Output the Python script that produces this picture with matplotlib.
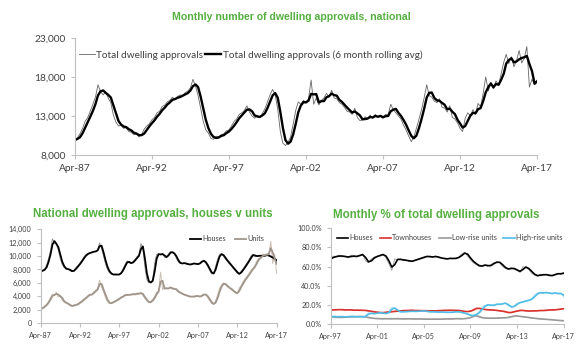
import matplotlib
matplotlib.use('Agg')
import matplotlib.pyplot as plt
import matplotlib.dates as mdates
from matplotlib.ticker import FuncFormatter
import numpy as np
import pandas as pd

plt.rcParams['font.family'] = ['Lato', 'DejaVu Sans']

# ---- data: total dwelling approvals, every 2 months Apr-87 .. Apr-17
total = [
    9900, 10200, 10700, 11400, 12300, 12800,
    13600, 14500, 15400, 17000, 16100, 15700,
    16100, 15300, 14700, 13100, 12200, 11700,
    11800, 11400, 11500, 11000, 10900, 10600,
    10700, 10300, 10600, 11300, 11700, 12000,
    12500, 12800, 13400, 13600, 14200, 14400,
    14800, 15000, 15400, 15100, 15500, 15700,
    15600, 16000, 16200, 16600, 17700, 16800,
    15600, 14000, 12300, 11200, 10800, 10100,
    10000, 10400, 10300, 10600, 10700, 11100,
    11200, 11700, 12300, 12600, 13200, 13400,
    13700, 14300, 13500, 13000, 12700, 13100,
    12800, 13300, 13900, 14800, 15700, 16400,
    15700, 13900, 11000, 9500, 9200, 9600,
    10300, 11900, 13700, 14800, 14500, 15000,
    14700, 15200, 17600, 14500, 15300, 14400,
    15000, 15300, 15900, 15400, 16300, 15300,
    15200, 14700, 14500, 14100, 13600, 13500,
    13200, 14000, 12800, 12400, 12500, 12900,
    12600, 13100, 12700, 13200, 12800, 13000,
    12700, 13200, 13100, 14500, 13800, 13400,
    13000, 12600, 11800, 11200, 10400, 9700,
    10300, 11400, 12600, 13800, 15300, 17000,
    15600, 15400, 14900, 14700, 15200, 14100,
    14000, 13500, 14300, 12800, 12600, 12100,
    11400, 11000, 12700, 13400, 13000, 13800,
    13200, 14600, 14200, 15900, 18000, 16200,
    17300, 16500, 17500, 17000, 18400, 19900,
    20900, 19700, 20600, 19300, 20100, 21400,
    19800, 20400, 21900, 16700, 17700, 17000,
    17600,
]

# ---- houses v units, quarterly Apr-87 .. Apr-17
houses = [
    7700, 7900, 8000, 8600, 9600, 10800, 12600, 11900,
    11800, 10900, 9600, 8700, 8300, 8000, 8100, 7800,
    7700, 7900, 8300, 8600, 9000, 9400, 9900, 10200,
    10400, 10500, 10600, 10700, 10700, 11000, 12000, 11100,
    10000, 8800, 8000, 7500, 7300, 7200, 7300, 7200,
    7300, 7600, 8200, 8800, 9300, 9000, 8900, 9200,
    9500, 9900, 10200, 11900, 11000, 8400, 6500, 6000,
    6100, 6500, 9000, 10300, 10300, 10200, 10400, 9800,
    9900, 10300, 10700, 10500, 10300, 9700, 9100, 8900,
    8900, 9000, 8800, 8800, 8700, 8900, 8900, 8800,
    8800, 9000, 9300, 9300, 8900, 8400, 7800, 7300,
    7500, 8500, 9600, 10300, 10300, 10000, 9500, 9200,
    8800, 8500, 8100, 7800, 7400, 7300, 7800, 8100,
    8600, 9000, 9500, 10000, 10300, 9900, 10100, 10000,
    10100, 10000, 10100, 10200, 10000, 9900, 9700, 9500,
    9200,
]
units = [
    2100, 2300, 2500, 2800, 3200, 3800, 4300, 4100,
    4600, 3900, 4100, 3400, 3100, 3000, 2800, 2600,
    2500, 2700, 2700, 2900, 3100, 3300, 3600, 3800,
    4100, 4300, 4200, 4700, 4800, 5200, 6400, 5300,
    4700, 3800, 3200, 2900, 3000, 3200, 3300, 3500,
    3700, 3900, 4000, 4300, 4100, 4300, 4200, 4400,
    4200, 4500, 4300, 4600, 4100, 3700, 3300, 3000,
    3200, 3500, 4000, 4600, 4800, 7600, 5000, 5300,
    5100, 5200, 5400, 5000, 5200, 4900, 4600, 4500,
    4300, 4200, 4100, 4000, 3900, 4000, 3900, 4100,
    4000, 3900, 4200, 4300, 4200, 3800, 3300, 2900,
    2800, 3300, 4200, 5200, 5700, 6000, 5700, 5400,
    5200, 5000, 4700, 4500, 4400, 5200, 5600, 6200,
    6600, 7000, 7400, 7900, 8200, 8600, 9300, 9700,
    9800, 10300, 10000, 10400, 10200, 12200, 8900, 10300,
    7400,
]

# ---- % of total approvals, quarterly Apr-97 .. Apr-17
pct_houses = [
    68, 71, 70, 72, 70, 71, 69, 72, 70, 71, 72, 73,
    66, 64, 68, 70, 71, 72, 73, 69, 63, 56, 68, 67,
    68, 66, 67, 65, 66, 67, 68, 69, 70, 71, 70, 70,
    71, 69, 69, 68, 68, 69, 68, 69, 70, 73, 75, 71,
    67, 64, 62, 60, 61, 62, 60, 62, 64, 65, 64, 60,
    58, 57, 59, 57, 56, 54, 60, 59, 57, 53, 51, 50,
    52, 51, 52, 50, 51, 52, 53, 52, 54,
]
pct_town = [
    14.5, 15.0, 14.8, 15.2, 14.8, 14.5, 15.0, 14.6, 14.3, 14.6, 14.2, 14.4,
    14.0, 13.5, 13.0, 12.5, 12.2, 11.8, 12.0, 12.4, 12.6, 13.0, 13.3, 13.6,
    13.8, 14.2, 14.0, 14.4, 14.3, 14.0, 14.2, 13.8, 14.0, 13.7, 13.9, 13.6,
    13.8, 14.1, 14.0, 14.4, 14.2, 14.5, 14.1, 14.3, 14.0, 13.5, 12.8, 13.2,
    13.6, 15.5, 16.8, 16.0, 15.4, 15.0, 14.8, 14.6, 14.5, 14.0, 13.6, 13.2,
    12.5, 11.6, 12.4, 13.2, 13.8, 14.4, 14.0, 13.6, 13.5, 13.8, 13.6, 14.0,
    14.2, 14.0, 14.5, 14.8, 14.6, 15.0, 15.3, 15.8, 16.2,
]
pct_low = [
    7.5, 7.2, 7.0, 6.8, 7.0, 7.2, 7.4, 7.6, 7.5, 7.8, 8.0, 7.6,
    7.2, 6.5, 6.0, 5.8, 5.6, 5.5, 5.4, 5.6, 5.5, 5.4, 5.6, 5.5,
    5.4, 5.3, 5.5, 5.4, 5.3, 5.2, 5.4, 5.2, 5.1, 5.0, 5.2, 5.0,
    5.1, 5.0, 5.2, 5.3, 5.4, 5.2, 5.5, 5.6, 5.5, 5.4, 5.8, 6.2,
    7.0, 8.8, 8.5, 7.0, 6.4, 6.2, 6.0, 6.1, 6.0, 6.2, 6.4, 6.5,
    6.6, 7.0, 8.0, 8.6, 8.2, 7.8, 7.4, 7.0, 6.6, 6.2, 5.8, 5.5,
    5.2, 5.0, 4.8, 4.5, 4.3, 4.0, 3.7, 3.5, 3.4,
]
pct_high = [
    8.0, 7.8, 7.5, 7.8, 7.6, 7.3, 7.8, 8.0, 7.8, 7.5, 7.6, 7.4,
    8.5, 12.0, 10.5, 11.0, 11.5, 12.0, 11.0, 10.8, 13.0, 17.5, 16.0, 13.0,
    12.5, 13.0, 12.8, 13.5, 13.0, 13.4, 13.2, 13.8, 13.5, 13.0, 12.6, 12.8,
    12.5, 12.2, 12.8, 12.0, 12.4, 12.0, 12.6, 12.8, 12.5, 11.8, 11.0, 10.0,
    8.5, 9.0, 10.5, 13.0, 17.5, 19.5, 20.5, 19.0, 20.0, 21.0, 20.5, 21.5,
    22.0, 18.5, 17.5, 19.0, 22.0, 22.5, 23.5, 24.5, 25.0, 26.5, 30.5, 32.5,
    33.0, 32.0, 33.5, 31.5, 32.0, 33.0, 31.0, 32.5, 28.0,
]

d_top = pd.date_range('1987-04-01', '2017-04-01', freq='2MS')
d_hu = pd.date_range('1987-04-01', '2017-04-01', freq='3MS')
d_pct = pd.date_range('1997-04-01', '2017-04-01', freq='3MS')

total_s = pd.Series(total, index=d_top)
houses_s = pd.Series(houses, index=d_hu)
units_s = pd.Series(units, index=d_hu)

GREEN = '#55b040'
TXT = '#404040'
AX = '#bfbfbf'


def style(ax, fs):
    for s in ['top', 'right']:
        ax.spines[s].set_visible(False)
    for s in ['left', 'bottom']:
        ax.spines[s].set_color(AX)
        ax.spines[s].set_linewidth(0.8)
    ax.tick_params(colors=AX, labelcolor=TXT, labelsize=fs, length=3, width=0.8)
    ax.xaxis.set_major_formatter(mdates.DateFormatter('%b-%y'))


fig = plt.figure(figsize=(5.8, 3.52), dpi=100)

# ---- top chart
ax1 = fig.add_axes([0.129, 0.560, 0.797, 0.332])
ax1.plot(total_s.index, total_s.values, color='#666666', lw=0.6,
         label='Total dwelling approvals')
ax1.plot(total_s.index, total_s.rolling(3, min_periods=1).mean().values,
         color='black', lw=1.7,
         label='Total dwelling approvals (6 month rolling avg)')
ax1.set_ylim(8000, 23000)
ax1.set_yticks([8000, 13000, 18000, 23000])
ax1.yaxis.set_major_formatter(FuncFormatter(lambda v, p: f'{v:,.0f}'))
ax1.set_xlim(pd.Timestamp('1987-04-01'), pd.Timestamp('2017-04-01'))
ax1.set_xticks(pd.date_range('1987-04-01', '2017-04-01', freq='60MS'))
style(ax1, 7.3)
ax1.legend(loc='upper left', bbox_to_anchor=(0.0, 0.93), ncol=2, frameon=False,
           fontsize=7.2, handlelength=1.6, handletextpad=0.15,
           columnspacing=0.2, borderaxespad=0, labelcolor=TXT)
fig.text(0.502, 0.952, 'Monthly number of dwelling approvals, national',
         ha='center', va='center', color=GREEN, fontsize=7.6,
         fontweight='bold', family='Liberation Sans')

# ---- bottom left: houses v units
ax2 = fig.add_axes([0.070, 0.0824, 0.407, 0.266])
ax2.plot(houses_s.index, houses_s.values, color='#8c8c8c', lw=0.6)
ax2.plot(units_s.index, units_s.values, color='#cdbfb2', lw=0.7)
ax2.plot(houses_s.index, houses_s.rolling(2, min_periods=1).mean().values,
         color='black', lw=1.3, label='Houses')
ax2.plot(units_s.index, units_s.rolling(2, min_periods=1).mean().values,
         color='#a0958a', lw=1.3, label='Units')
ax2.set_ylim(0, 14000)
ax2.set_yticks(range(0, 14001, 2000))
ax2.yaxis.set_major_formatter(FuncFormatter(lambda v, p: f'{v:,.0f}'))
ax2.set_xlim(pd.Timestamp('1987-04-01'), pd.Timestamp('2017-04-01'))
ax2.set_xticks(pd.date_range('1987-04-01', '2017-04-01', freq='60MS'))
style(ax2, 5.2)
ax2.legend(loc='upper right', bbox_to_anchor=(0.96, 0.97), ncol=2, frameon=False,
           fontsize=5.2, handlelength=1.6, handletextpad=0.15,
           columnspacing=1.2, borderaxespad=0, labelcolor=TXT)
fig.text(0.263, 0.392, 'National dwelling approvals, houses v units',
         ha='center', va='center', color=GREEN, fontsize=8.3,
         fontweight='bold', family='Liberation Sans')

# ---- bottom right: % of total
ax3 = fig.add_axes([0.570, 0.0795, 0.402, 0.272])
series = [
    (pct_houses, 'Houses', 'black', '#9a9a9a'),
    (pct_town, 'Townhouses', '#d9302c', '#ee9a96'),
    (pct_low, 'Low-rise units', '#999999', '#c8c8c8'),
    (pct_high, 'High-rise units', '#4fbde6', '#a9dcf0'),
]
for vals, name, col, raw in series:
    s = pd.Series(vals, index=d_pct)
    ax3.plot(s.index, s.values, color=raw, lw=0.6)
for vals, name, col, raw in series:
    s = pd.Series(vals, index=d_pct)
    ax3.plot(s.index, s.rolling(2, min_periods=1).mean().values,
             color=col, lw=1.2, label=name)
ax3.set_ylim(0, 100)
ax3.set_yticks(range(0, 101, 20))
ax3.yaxis.set_major_formatter(FuncFormatter(lambda v, p: f'{v:.1f}%'))
ax3.set_xlim(pd.Timestamp('1997-04-01'), pd.Timestamp('2017-04-01'))
ax3.set_xticks(pd.date_range('1997-04-01', '2017-04-01', freq='48MS'))
style(ax3, 5.2)
ax3.legend(loc='upper center', bbox_to_anchor=(0.51, 0.97), ncol=4, frameon=False,
           fontsize=5.2, handlelength=1.6, handletextpad=0.15,
           columnspacing=0.9, borderaxespad=0, labelcolor=TXT)
fig.text(0.753, 0.390, 'Monthly % of total dwelling approvals',
         ha='center', va='center', color=GREEN, fontsize=8.3,
         fontweight='bold', family='Liberation Sans')

fig.savefig('out.png', dpi=100)
